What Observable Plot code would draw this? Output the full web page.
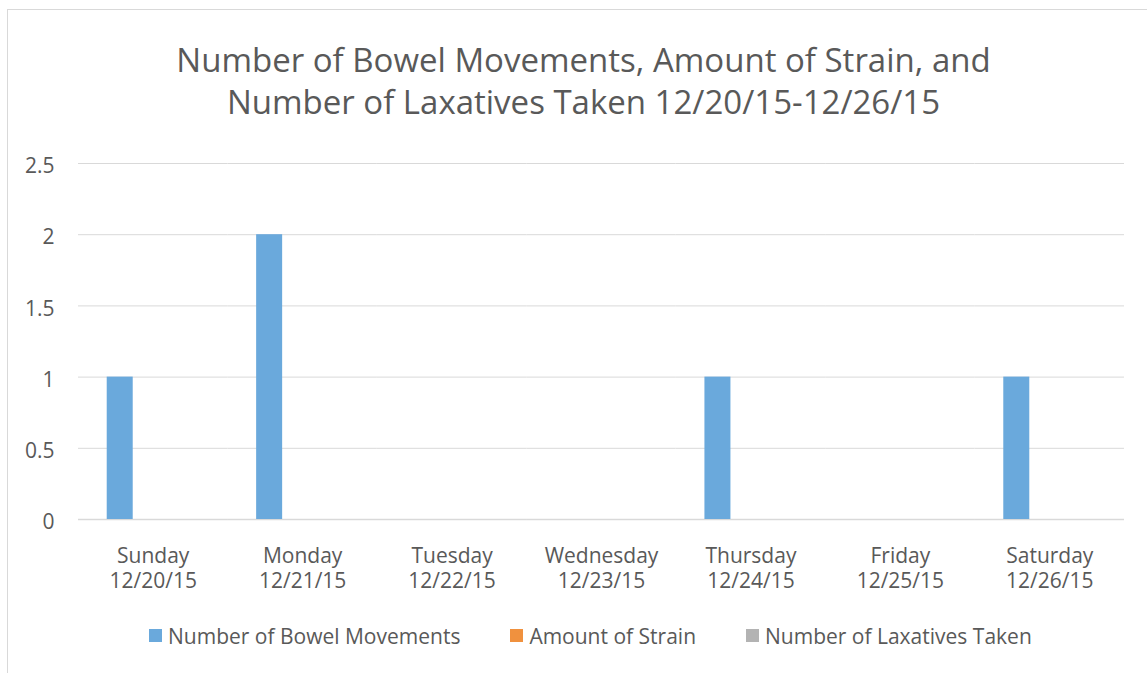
<!DOCTYPE html>
<html><head><meta charset="utf-8">
<script src="https://cdn.jsdelivr.net/npm/d3@7"></script>
<script src="https://cdn.jsdelivr.net/npm/@observablehq/plot@0.6"></script>
<style>
body{margin:0;background:#fff;font-family:"Open Sans",sans-serif;color:#595959;overflow:hidden;width:1147px;height:673px;position:relative}
#frame{position:absolute;left:7px;top:9px;width:1160px;height:700px;border-top:1px solid #d9d9d9;border-left:1px solid #d9d9d9;box-sizing:border-box}
#title{position:absolute;left:7px;width:1153px;top:39px;text-align:center;font-size:33px;line-height:42px;color:#595959}
#chart{position:absolute;left:0;top:140px}
#legend{position:absolute;left:149px;top:622px;display:flex;font-size:21px;line-height:28px;color:#595959}
.item{display:flex;align-items:center;margin-right:50px}
.sw{width:13px;height:13px;margin-right:6px;margin-top:-1px}
</style></head>
<body>
<div id="frame"></div>
<div id="title">Number of Bowel Movements, Amount of Strain, and<br>Number of Laxatives Taken 12/20/15-12/26/15</div>
<div id="chart"></div>
<div id="legend"></div>
<script>
const days = ["Sunday","Monday","Tuesday","Wednesday","Thursday","Friday","Saturday"];
const dates = ["12/20/15","12/21/15","12/22/15","12/23/15","12/24/15","12/25/15","12/26/15"];
const series = ["Number of Bowel Movements","Amount of Strain","Number of Laxatives Taken"];
const bowelMovements = [1,2,0,0,1,0,1];
const strain = [0,0,0,0,0,0,0];
const laxatives = [0,0,0,0,0,0,0];
const yTicks = [0,0.5,1,1.5,2,2.5];
const colors = ["#6aa9dc","#f0913e","#b3b3b3"];

const dayLabels = days.map((d,i)=>d+"\n"+dates[i]);
const values = [bowelMovements, strain, laxatives];
const table = [];
dayLabels.forEach((d,i)=>series.forEach((s,j)=>table.push({day:d, series:s, value:values[j][i]})));

const chart = Plot.plot({
  width:1147, height:470,
  marginLeft:78, marginRight:23, marginTop:23, marginBottom:91,
  style:{fontFamily:"Open Sans", fontSize:"21px", color:"#595959", background:"transparent", overflow:"visible"},
  fx:{domain:dayLabels, padding:0, label:null, round:false},
  x:{domain:series, axis:null, paddingInner:0.212, paddingOuter:0.87, round:false},
  y:{domain:[0,2.5], axis:null, label:null},
  color:{domain:series, range:colors},
  marks:[
    Plot.gridY(yTicks, {stroke:"#d9d9d9", strokeOpacity:1, strokeWidth:1}),
    Plot.ruleY([0], {stroke:"#d9d9d9", strokeWidth:1.5}),
    Plot.axisY(yTicks, {tickSize:0, tickPadding:24, label:null, fill:"#595959", fontSize:21, dy:3, tickFormat:d=>String(d)}),
    Plot.axisFx({anchor:"bottom", tickSize:0, tickPadding:25, label:null, fill:"#595959", fontSize:21, lineHeight:1.22}),
    Plot.barY(table, {fx:"day", x:"series", y:"value", fill:"series"})
  ]
});
document.getElementById("chart").appendChild(chart);

const legend = document.getElementById("legend");
series.forEach((s,i)=>{
  const it = document.createElement("div"); it.className="item";
  const sw = document.createElement("div"); sw.className="sw"; sw.style.background=colors[i];
  const t = document.createElement("span"); t.textContent=s;
  it.appendChild(sw); it.appendChild(t); legend.appendChild(it);
});
</script>
</body></html>
